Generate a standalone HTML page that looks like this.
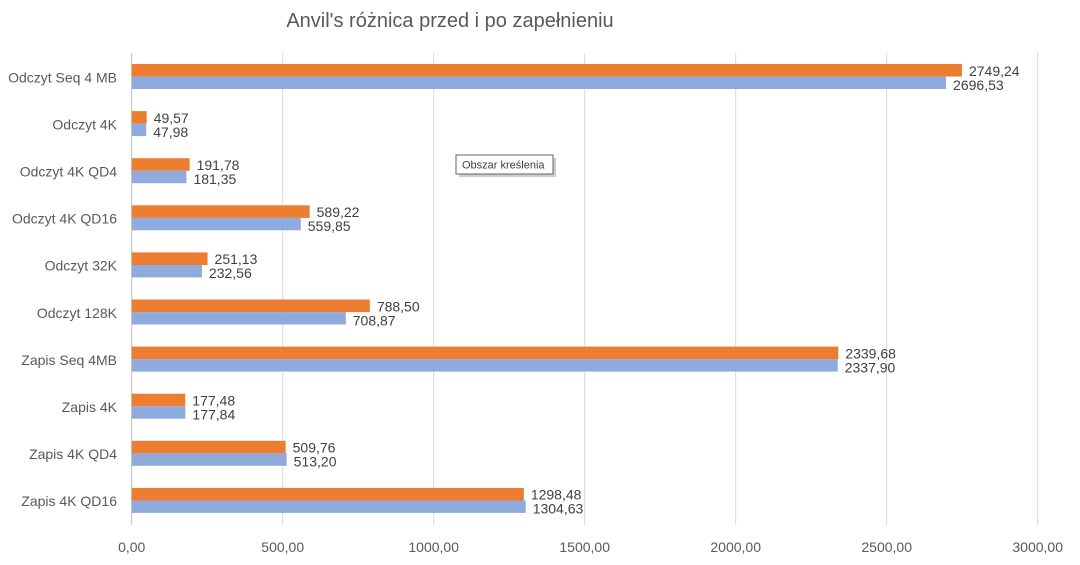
<!DOCTYPE html>
<html><head><meta charset="utf-8"><style>
body{margin:0;background:#fff;font-family:"Liberation Sans",sans-serif}
svg text{font-family:"Liberation Sans",sans-serif}
</style></head><body>
<svg width="1080" height="560" xmlns="http://www.w3.org/2000/svg">
<rect width="1080" height="560" fill="#fff"/>
<text x="450" y="27" font-size="20" fill="#595959" text-anchor="middle">Anvil's różnica przed i po zapełnieniu</text>
<g id="grid"></g><g id="bars"></g><g id="labels"></g>
<g>
<rect x="459" y="158" width="97" height="19" fill="#999" opacity="0.5"/>
<rect x="456" y="155" width="97" height="19" fill="#fff" stroke="#666" stroke-width="1"/>
<text x="462" y="168.5" font-size="11" fill="#404040">Obszar kreślenia</text>
</g>
</svg>
<script>
const categories=["Odczyt Seq 4 MB","Odczyt 4K","Odczyt 4K QD4","Odczyt 4K QD16","Odczyt 32K","Odczyt 128K","Zapis Seq 4MB","Zapis 4K","Zapis 4K QD4","Zapis 4K QD16"];
const afterValues=[2749.24,49.57,191.78,589.22,251.13,788.50,2339.68,177.48,509.76,1298.48];
const beforeValues=[2696.53,47.98,181.35,559.85,232.56,708.87,2337.90,177.84,513.20,1304.63];
const xTicks=[0,500,1000,1500,2000,2500,3000];
const NS="http://www.w3.org/2000/svg";
const x=v=>131.7+v*0.302;
const rowC=i=>77.3+i*47.1;
const fmt=v=>v.toFixed(2).replace('.',',');
function mk(tag,attrs,parent){const e=document.createElementNS(NS,tag);for(const k in attrs)e.setAttribute(k,attrs[k]);parent.appendChild(e);return e;}
const grid=document.getElementById('grid'),bars=document.getElementById('bars'),labels=document.getElementById('labels');
xTicks.forEach(t=>{
 const l=mk('line',{x1:x(t),x2:x(t),y1:53,y2:525,stroke:t===0?'#bfbfbf':'#d9d9d9','stroke-width':1},grid);
 
 
 const tx=mk('text',{x:x(t),y:552,'font-size':14,fill:'#595959','text-anchor':'middle'},grid);
 tx.textContent=fmt(t);
 
 
});
categories.forEach((c,i)=>{
 const cy=rowC(i);
 const ct=mk('text',{x:117,y:cy+5,'font-size':14,fill:'#595959','text-anchor':'end'},labels);
 ct.textContent=c;
 
 
 const a=mk('rect',{x:x(0),y:cy-13.3,width:x(afterValues[i])-x(0),height:12.6,fill:'#ed7d31'},bars);
 
 
 const b=mk('rect',{x:x(0),y:cy-0.7,width:x(beforeValues[i])-x(0),height:12.4,fill:'#8faadc'},bars);
 
 
 const at=mk('text',{x:x(afterValues[i])+7,y:cy-1.5,'font-size':14,fill:'#404040'},labels);
 at.textContent=fmt(afterValues[i]);
 
 
 const bt=mk('text',{x:x(beforeValues[i])+7,y:cy+12.5,'font-size':14,fill:'#404040'},labels);
 bt.textContent=fmt(beforeValues[i]);
 
 
});
</script>
</body></html>
